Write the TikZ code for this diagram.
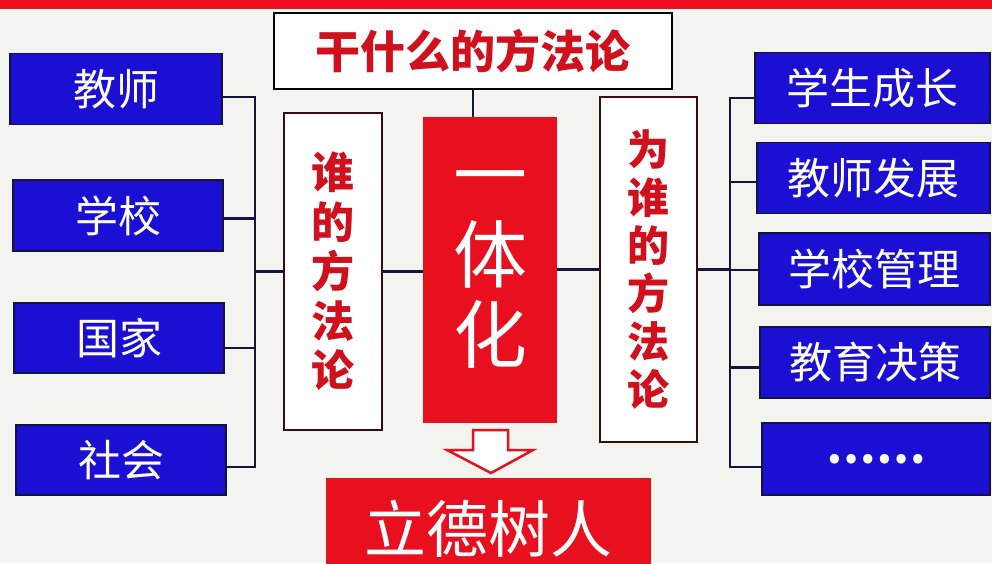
\documentclass[tikz,border=0pt]{standalone}
\usepackage{fontspec}
\newfontfamily\cjk{Noto Sans CJK SC}
\usetikzlibrary{calc}
\definecolor{bandred}{HTML}{EE1020}
\definecolor{boxred}{HTML}{E8101E}
\definecolor{txtred}{HTML}{D0101C}
\definecolor{bblue}{HTML}{1A0FD2}
\definecolor{navy}{HTML}{14143A}
\definecolor{maroon}{HTML}{3A0A10}
\definecolor{bgcol}{HTML}{F3F3F0}
\tikzset{
  bluebox/.style={draw=navy, line width=1.5pt, fill=bblue, text=white, inner sep=0pt,
    font=\cjk\fontsize{43}{48}\selectfont},
  whitebox/.style={draw=maroon, line width=2pt, fill=white, text=txtred, inner sep=0pt,
    align=center},
  redbox/.style={fill=boxred, text=white, inner sep=0pt, align=center},
  conn/.style={draw=navy, line width=2.6pt},
}
\begin{document}
\begin{tikzpicture}[x=1pt,y=-1pt]
\useasboundingbox (0,0) rectangle (992,563);
\fill[bgcol] (0,0) rectangle (992,563);
\clip (0,0) rectangle (992,563);
\fill[bandred] (0,0) rectangle (992,9);

% left boxes
\node[bluebox, minimum width=212pt, minimum height=71pt] (l1) at (116,89) {教师};
\node[bluebox, minimum width=210pt, minimum height=71pt] (l2) at (118,215.5) {学校};
\node[bluebox, minimum width=210pt, minimum height=70pt] (l3) at (119,338) {国家};
\node[bluebox, minimum width=210pt, minimum height=70pt] (l4) at (121,460) {社会};

% right boxes
\node[bluebox, minimum width=235pt, minimum height=71pt] (r1) at (872.5,88) {学生成长};
\node[bluebox, minimum width=233pt, minimum height=71pt] (r2) at (873.5,178) {教师发展};
\node[bluebox, minimum width=231pt, minimum height=72pt] (r3) at (874.5,269) {学校管理};
\node[bluebox, minimum width=230pt, minimum height=71pt] (r4) at (875,362.5) {教育决策};
\node[bluebox, minimum width=228pt, minimum height=72pt, font=\cjk\bfseries\fontsize{44}{48}\selectfont] (r5) at (876,459) {……};

% center
\node[draw=black, line width=2pt, fill=white, text=txtred, inner sep=0pt,
  minimum width=398pt, minimum height=76pt,
  font=\cjk\bfseries\fontsize{45}{50}\selectfont] (top) at (473,51) {干什么的方法论};
\node[whitebox, minimum width=98pt, minimum height=317pt,
  font=\cjk\bfseries\fontsize{43}{49.5}\selectfont] (who) at (333,271.5) {谁\\的\\方\\法\\论};
\node[redbox, minimum width=134pt, minimum height=306pt,
  font=\cjk\fontsize{74}{80}\selectfont] (yt) at (490,270) {一\\体\\化};
\node[whitebox, minimum width=97pt, minimum height=345pt,
  font=\cjk\bfseries\fontsize{42}{48}\selectfont] (forwho) at (648.5,269.5) {为\\谁\\的\\方\\法\\论};
\node[redbox, minimum width=325pt, minimum height=102pt,
  font=\cjk\fontsize{62}{66}\selectfont] (ldsr) at (488.5,529) {立德树人};

% hollow arrow
\draw[boxred, line width=2.5pt, fill=white, line join=miter]
  (473,430) -- (508,430) -- (508,450) -- (533,450) -- (491,473) -- (447,450) -- (473,450) -- cycle;

% connectors
\coordinate (lb) at (255,0);
\coordinate (rb) at (730,0);
\draw[conn] (top.south) -- (top.south |- yt.north);
\draw[conn] ([yshift=-8pt]l1.east) -- ([yshift=-8pt]l1.east -| lb);
\draw[conn] ([yshift=-3pt]l2.east) -- ([yshift=-3pt]l2.east -| lb);
\draw[conn] ([yshift=-10pt]l3.east) -- ([yshift=-10pt]l3.east -| lb);
\draw[conn] ([yshift=-7pt]l4.east) -- ([yshift=-7pt]l4.east -| lb);
\draw[conn, line cap=rect] ([yshift=-8pt]l1.east -| lb) -- ([yshift=-7pt]l4.east -| lb);
\draw[conn] (who.west -| lb) -- (who.west);
\draw[conn] (who.east) -- (who.east -| yt.west);
\draw[conn] (yt.east |- forwho.west) -- (forwho.west);
\draw[conn] (forwho.east) -- (forwho.east -| rb);
\draw[conn] ([yshift=-10pt]r1.west) -- ([yshift=-10pt]r1.west -| rb);
\draw[conn] ([yshift=-4pt]r2.west) -- ([yshift=-4pt]r2.west -| rb);
\draw[conn] ([yshift=-1pt]r3.west) -- ([yshift=-1pt]r3.west -| rb);
\draw[conn] ([yshift=-5pt]r4.west) -- ([yshift=-5pt]r4.west -| rb);
\draw[conn] ([yshift=-8pt]r5.west) -- ([yshift=-8pt]r5.west -| rb);
\draw[conn, line cap=rect] ([yshift=-10pt]r1.west -| rb) -- ([yshift=-8pt]r5.west -| rb);
\end{tikzpicture}
\end{document}
